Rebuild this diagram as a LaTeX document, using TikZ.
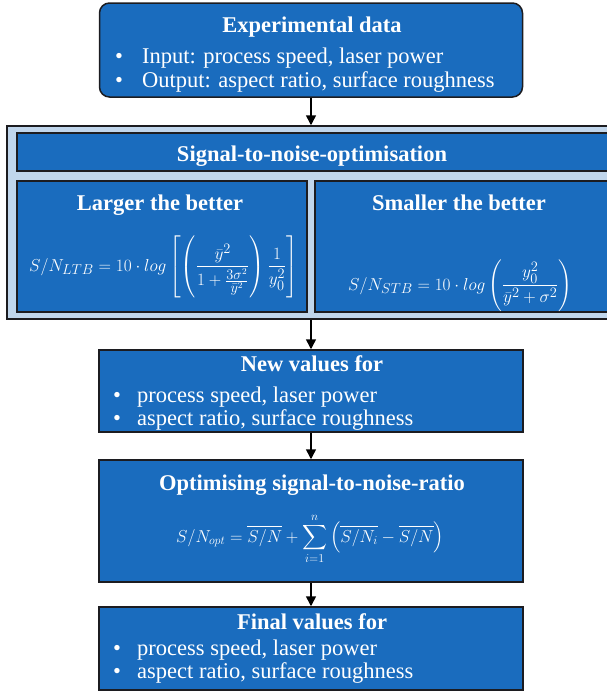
\documentclass[tikz,border=0pt]{standalone}
\usepackage{amsmath}
\usepackage{fontspec}
\setmainfont{Liberation Serif}
\usetikzlibrary{arrows.meta}
\definecolor{boxblue}{RGB}{26,108,190}
\definecolor{panelblue}{RGB}{192,214,236}
\definecolor{edge}{RGB}{28,28,32}
\tikzset{
  box/.style={draw=edge, line width=1.5pt, fill=boxblue, inner sep=0pt},
  head/.style={anchor=base, inner sep=0pt, text=white, font=\fontsize{22.5}{24}\selectfont\bfseries},
  item/.style={anchor=base west, inner sep=0pt, text=white, font=\fontsize{22.5}{24}\selectfont},
  formula/.style={anchor=base west, inner sep=0pt, text=white, font=\fontsize{19}{22}\selectfont},
  flow/.style={line width=1.5pt, draw=black, -{Triangle[width=10pt,length=10pt]}},
}
\begin{document}
\begin{tikzpicture}[x=1pt, y=-1pt]
      \useasboundingbox (0,0) rectangle (606,691);
      % boxes
      \node[box, rounded corners=10pt, minimum width=423pt, minimum height=94pt] (data) at (311,50) {};
      \node[box, fill=panelblue, minimum width=615pt, minimum height=193pt] (panel) at (314.5,222.5) {};
      \node[box, minimum width=595pt, minimum height=38pt] (sn) at (314.5,152) {};
      \node[box, minimum width=290pt, minimum height=131pt] (ltb) at (162,246.5) {};
      \node[box, minimum width=297pt, minimum height=131pt] (stb) at (463.5,246.5) {};
      \node[box, minimum width=424pt, minimum height=82pt] (newval) at (311,391) {};
      \node[box, minimum width=424pt, minimum height=122pt] (opt) at (311,521) {};
      \node[box, minimum width=424pt, minimum height=83pt] (final) at (311,648.5) {};

      % texts
      \node[head] (data-t) at (312,32) {Experimental data};
      \node[item] (data-1) at (115,63) {\makebox[27pt][l]{\textbullet}Input: process speed, laser power};
      \node[item] (data-2) at (115,87) {\makebox[27pt][l]{\textbullet}Output: aspect ratio, surface roughness};
      \node[head] (sn-t) at (312,161) {Signal-to-noise-optimisation};
      \node[head] (ltb-t) at (160,210) {Larger the better};
      \node[head] (stb-t) at (459,210) {Smaller the better};
      \node[formula] (ltb-f) at (29,271) {$\displaystyle S/N_{LTB}=10\cdot log\left[\left(\frac{\bar{y}^2}{1+\frac{3\sigma^2}{\bar{y}^2}}\right)\frac{1}{y_0^2}\right]$};
      \node[formula] (stb-f) at (348,290) {$\displaystyle S/N_{STB}=10\cdot log\left(\frac{y_0^2}{\bar{y}^2+\sigma^2}\right)$};
      \node[head] (newval-t) at (312,371) {New values for};
      \node[head] (opt-t) at (312,490) {Optimising signal-to-noise-ratio};
      \node[formula, font=\fontsize{18.5}{22}\selectfont] (opt-f) at (176,542) {$\displaystyle S/N_{opt}=\overline{S/N}+\sum_{i=1}^{n}\left(\overline{S/N_i}-\overline{S/N}\right)$};
      \node[head] (final-t) at (312,629) {Final values for};

      \foreach \bx/\y in {newval/379, final/632} {
        \foreach \txt [count=\i] in {{process speed, laser power},{aspect ratio, surface roughness}} {
          \node[item] (\bx-\i) at (113,{\y+23*\i}) {\makebox[24pt][l]{\textbullet}\txt};
        }
      }

      % arrows
      \draw[flow] (data.south) -- (data.south |- panel.north);
      \draw[flow] (newval.north |- panel.south) -- (newval.north);
      \draw[flow] (newval.south) -- (opt.north);
      \draw[flow] (opt.south) -- (final.north);
\end{tikzpicture}
\end{document}
